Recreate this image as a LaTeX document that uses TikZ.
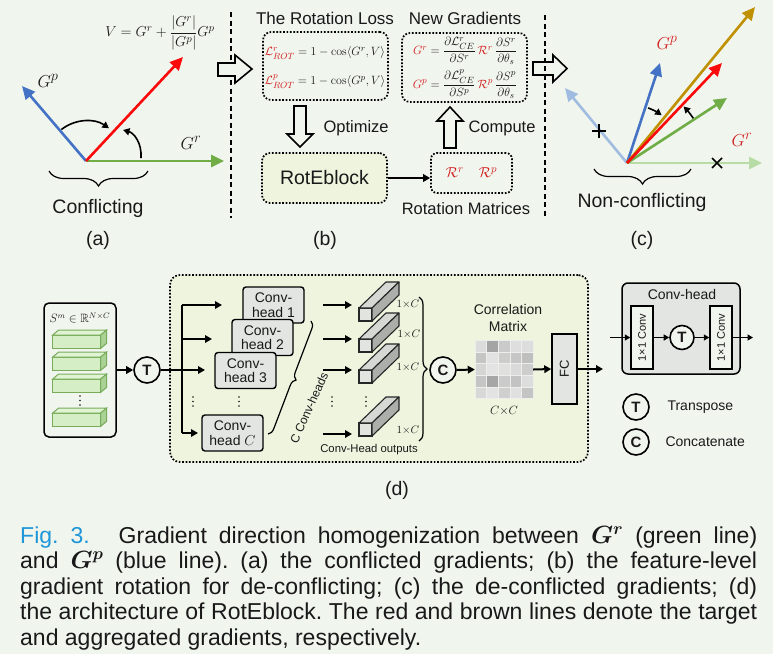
\documentclass[tikz,border=0pt]{standalone}
\usepackage{amsmath,amssymb,bm}
\usepackage[no-math]{fontspec}
\setmainfont{Liberation Sans}
\usetikzlibrary{arrows.meta,decorations.pathreplacing,calc}
\newcommand{\fsz}[1]{\fontsize{#1}{#1}\selectfont}
\definecolor{bgc}{RGB}{240,245,238}
\definecolor{panel}{RGB}{238,244,222}
\definecolor{hgray}{RGB}{226,229,225}
\definecolor{vblue}{RGB}{68,114,196}
\definecolor{vlblue}{RGB}{160,188,224}
\definecolor{vred}{RGB}{250,10,10}
\definecolor{vgreen}{RGB}{112,173,71}
\definecolor{vlgreen}{RGB}{184,220,166}
\definecolor{vbrown}{RGB}{191,144,0}
\definecolor{fred}{RGB}{210,30,30}
\definecolor{capblue}{RGB}{30,150,215}
\definecolor{txt}{RGB}{25,25,25}
\definecolor{barfill}{RGB}{213,238,198}
\definecolor{bartop}{RGB}{224,244,212}
\definecolor{barside}{RGB}{170,210,148}
\definecolor{baredge}{RGB}{120,172,90}
\definecolor{gfront}{RGB}{226,228,224}
\definecolor{gtop}{RGB}{214,216,212}
\definecolor{gside}{RGB}{172,174,170}
\begin{document}
\begin{tikzpicture}[x=1pt,y=-1pt,
  every node/.style={text=txt},
  vec/.style={line width=2.6pt,-{Triangle[length=13pt,width=12pt]}},
  carr/.style={line width=1.6pt,-{Triangle[length=6.5pt,width=7pt]}},
  arr/.style={line width=2pt,-{Triangle[length=7pt,width=7.5pt]}},
  larr/.style={line width=1.4pt,-{Triangle[length=5.5pt,width=6pt]}},
  dotbox/.style={draw,line width=1.7pt,dash pattern=on 1.7pt off 1.7pt,rounded corners=8pt,inner sep=0pt},
  hollow/.style={draw,fill=bgc,line width=1.6pt,line join=miter},
  dashline/.style={line width=2pt,dash pattern=on 5pt off 3.5pt},
  circ/.style={circle,draw,line width=1.6pt,fill=bgc,minimum size=26pt,inner sep=0pt,font=\fsz{15}\bfseries},
  hbox/.style={draw,line width=1.4pt,fill=hgray,rounded corners=3pt,minimum width=61pt,minimum height=36pt,inner sep=0pt,align=center,font=\fontsize{14}{14.5}\selectfont},
  brc/.style={line width=1.2pt,decorate,decoration={brace,amplitude=#1}},
  sub/.style={font=\fsz{19.5}}
]
\fill[bgc] (0,0) rectangle (773,654);
\useasboundingbox (0,0) rectangle (773,654);

% ---------------- (a)
\coordinate (oa) at (86,161);
\coordinate (pa) at (22,86);
\coordinate (va) at (183,57);
\coordinate (ra) at (224,161);
\draw[vec,vblue] (oa) -- (pa);
\draw[vec,vgreen] (oa) -- (ra);
\draw[vec,vred] (oa) -- (va);
\node[font=\fsz{19}] (lGpa) at (48,81) {$G^{p}$};
\node[font=\fsz{19}] (lGra) at (191,143) {$G^{r}$};
\node[font=\fsz{15}] (Vf) at (160,33) {$V=G^{r}+\dfrac{|G^{r}|}{|G^{p}|}G^{p}$};
\draw[carr] (61.4,129.5) arc[start angle=-128,end angle=-55,radius=40];
\draw[carr] (141,158) .. controls (142,143) and (134,133) .. (123,130);
\draw[brc=15pt] (148,171) -- (49,171);
\node[sub] (conf) at (98,208) {Conflicting};
\node[sub] (la) at (98,240) {(a)};

% dashed separators and hollow arrows
\draw[dashline] (231,12) -- (231,218);
\draw[hollow] (218,63) -- (235,63) -- (235,55) -- (252,69) -- (235,83) -- (235,76) -- (218,76) -- cycle;
\draw[hollow] (533,62) -- (553,62) -- (553,55) -- (567,68.5) -- (553,82) -- (553,75) -- (533,75) -- cycle;
\draw[dashline] (545,15) -- (545,218);

% ---------------- (b)
\node[font=\fsz{17}] (tl) at (325,18) {The Rotation Loss};
\node[font=\fsz{17}] (tg) at (465,18) {New Gradients};
\node[dotbox,minimum width=125pt,minimum height=68pt] (loss) at (325.5,66) {};
\node[font=\fsz{13}] (l1) at (325,53) {$\textcolor{fred}{\mathcal{L}^{r}_{ROT}}=1-\cos\langle G^{r},V\rangle$};
\node[font=\fsz{13}] (l2) at (325,82) {$\textcolor{fred}{\mathcal{L}^{p}_{ROT}}=1-\cos\langle G^{p},V\rangle$};
\node[dotbox,minimum width=125pt,minimum height=69pt] (grad) at (464.5,67.5) {};
\node[font=\fsz{13}] (g1) at (465,51) {$\textcolor{fred}{G^{r}}=\dfrac{\partial\mathcal{L}^{r}_{CE}}{\partial S^{r}}\,\textcolor{fred}{\mathcal{R}^{r}}\,\dfrac{\partial S^{r}}{\partial\theta_{s}}$};
\node[font=\fsz{13}] (g2) at (465,84) {$\textcolor{fred}{G^{p}}=\dfrac{\partial\mathcal{L}^{p}_{CE}}{\partial S^{p}}\,\textcolor{fred}{\mathcal{R}^{p}}\,\dfrac{\partial S^{p}}{\partial\theta_{s}}$};
\node[dotbox,fill=panel,minimum width=125pt,minimum height=50pt,font=\fsz{19.5}] (rot) at (324.5,178) {RotEblock};
\node[dotbox,rounded corners=6pt,minimum width=81pt,minimum height=40pt,font=\fsz{15}] (rmat) at (471.5,173) {$\textcolor{fred}{\mathcal{R}^{r}\quad\mathcal{R}^{p}}$};
\draw[arr] (rot.east) -- (rot.east -| rmat.west);
\draw[hollow] (294,106) -- (306,106) -- (306,134) -- (313,134) -- (300,147) -- (287,134) -- (294,134) -- cycle;
\draw[hollow] (444,148) -- (456,148) -- (456,121) -- (463,121) -- (450,107) -- (437,121) -- (444,121) -- cycle;
\node[font=\fsz{16.5},anchor=west] (opt) at (320,128) {Optimize};
\node[font=\fsz{16.5},anchor=west] (cmp) at (465,128) {Compute};
\node[font=\fsz{16.5}] (rm) at (466,209) {Rotation Matrices};
\node[sub] (lb) at (325,240) {(b)};

% ---------------- (c)
\coordinate (oc) at (627,163);
\coordinate (c1) at (565,88);
\coordinate (c2) at (660,63);
\coordinate (c3) at (755,7);
\coordinate (c4) at (722,63);
\coordinate (c5) at (727,98);
\coordinate (c6) at (762,163);
\draw[vec,vlblue] (oc) -- (c1);
\draw[vec,vlgreen] (oc) -- (c6);
\draw[vec,vblue] (oc) -- (c2);
\draw[vec,vgreen] (oc) -- (c5);
\draw[vec,vbrown] (oc) -- (c3);
\draw[vec,vred] (oc) -- (c4);
\draw[line width=1.6pt] (592,131) -- (606,131) (599,124) -- (599,138);
\draw[line width=1.6pt] (712,158) -- (722,168) (712,168) -- (722,158);
\node[font=\fsz{19}] (lGpc) at (667,43) {$\textcolor{fred}{G^{p}}$};
\node[font=\fsz{19}] (lGrc) at (742,140) {$\textcolor{fred}{G^{r}}$};
\draw[carr] (648.1,107.9) arc[start angle=-69,end angle=-54,radius=59];
\draw[carr] (693.3,118.3) arc[start angle=-34,end angle=-45,radius=80];
\draw[brc=15pt] (691,169) -- (594,169);
\node[sub] (nconf) at (642,202) {Non-conflicting};
\node[sub] (lc) at (642,240) {(c)};

% ---------------- (d)
\node[dotbox,fill=panel,rounded corners=10pt,minimum width=418pt,minimum height=187pt] (dbox) at (379,368.5) {};
\node[draw,line width=1.5pt,rounded corners=5pt,fill=bgc,minimum width=72pt,minimum height=134pt] (sbox) at (80,370) {};
\node[font=\fsz{12}] (slbl) at (80,318) {$S^{m}\in\mathbb{R}^{N\times C}$};
\foreach \y in {335,357,379,413}{
  \filldraw[draw=baredge,fill=barfill,line width=1pt] (52.7,\y) rectangle (100.7,\y+13.3);
  \filldraw[draw=baredge,fill=bartop,line width=1pt] (52.7,\y) -- (58.7,\y-5) -- (106.7,\y-5) -- (100.7,\y) -- cycle;
  \filldraw[draw=baredge,fill=barside,line width=1pt] (100.7,\y) -- (106.7,\y-5) -- (106.7,\y+8.3) -- (100.7,\y+13.3) -- cycle;
}
\foreach \k in {0,1,2} \fill[txt] (80,396+\k*4.5) circle (0.9);
\node[circ] (T1) at (147,370) {T};
\draw[arr] (sbox.east) -- (T1.west);
\coordinate (bt) at (182,305);
\coordinate (bb) at (182,433);
\coordinate (e1) at (222,305);
\coordinate (e2) at (212,339);
\coordinate (e3) at (205,370);
\coordinate (e4) at (198,433);
\draw[line width=2pt] (bt) -- (bb);
\draw[arr] (bt) -- (e1);
\draw[arr] (bt |- e2) -- (e2);
\draw[arr] (T1.east) -- (e3);
\draw[arr] (bb) -- (e4);
\foreach \k in {0,1,2} \fill[txt] (193,397+\k*4.5) circle (0.9);
\node[hbox] (h1) at (273.5,305) {Conv-\\head 1};
\node[hbox] (h2) at (262.5,337.5) {Conv-\\head 2};
\node[hbox] (h3) at (245.5,370.5) {Conv-\\head 3};
\node[hbox] (hC) at (232.5,433) {Conv-\\head $C$};
\foreach \k in {0,1,2} \fill[txt] (239,397+\k*4.5) circle (0.9);
\draw[brc=7pt] (311,321) -- (268,434);
\node[rotate=66,font=\fsz{12}] (chl) at (309,408) {C Conv-heads};
\foreach \yy in {305,339,370,434}{
  \coordinate (s\yy) at (323,\yy);
  \coordinate (t\yy) at (352,\yy);
  \draw[arr] (s\yy) -- (t\yy);
}
\foreach \k in {0,1,2} \fill[txt] (332,397+\k*4.5) circle (0.9);
\foreach \y in {308,339,370,423}{
  \filldraw[draw=black!85,fill=gfront,line width=1.1pt] (359,\y) rectangle (372,\y+13);
  \filldraw[draw=black!85,fill=gtop,line width=1.1pt,line join=round] (359,\y) -- (386,\y-26) -- (399,\y-26) -- (372,\y) -- cycle;
  \filldraw[draw=black!85,fill=gside,line width=1.1pt,line join=round] (372,\y) -- (399,\y-26) -- (399,\y-13) -- (372,\y+13) -- cycle;
}
\foreach \k in {0,1,2} \fill[txt] (366,397+\k*4.5) circle (0.9);
\node[font=\fsz{11}] (o1) at (408,304) {$1{\times}C$};
\node[font=\fsz{11}] (o2) at (409,334) {$1{\times}C$};
\node[font=\fsz{11}] (o3) at (408,367) {$1{\times}C$};
\node[font=\fsz{11}] (o4) at (408,430) {$1{\times}C$};
\draw[brc=8pt] (419,297) -- (419,441);
\node[font=\fsz{11.3}] (cho) at (369,450) {Conv-Head outputs};
\node[circ] (C1) at (443,370) {C};
\node[minimum size=58pt,inner sep=0pt] (cm) at (504,369.5) {};
\foreach \row [count=\i from 0] in {{220,164,202,222,221},{197,226,205,198,191},{213,227,224,218,205},{197,166,203,195,221},{216,227,207,224,196}}{
  \foreach \v [count=\j from 0] in \row {
    \definecolor{cellc}{RGB}{\v,\v,\v}
    \filldraw[fill=cellc,draw={rgb,255:red,236;green,238;blue,234},line width=0.6pt] (475+\j*11.6,340.5+\i*11.6) rectangle ++(11.6,11.6);
  }
}
\node[font=\fontsize{14}{17}\selectfont,align=center] (cml) at (508,317.5) {Correlation\\Matrix};
\node[font=\fsz{12}] (ccl) at (504,411) {$C{\times}C$};
\draw[arr] (C1.east) -- (cm.west);
\node[draw,line width=1.5pt,fill=hgray,minimum width=25pt,minimum height=70pt,inner sep=0pt] (fc) at (564.5,369) {};
\node[rotate=90,font=\fsz{13}] (fct) at (fc) {FC};
\draw[arr] (cm.east) -- (fc.west);
\coordinate (fo) at (603,369);
\draw[arr] (fc.east) -- (fo);
\node[sub] (ld) at (397,490) {(d)};

% Conv-head legend
\node[draw,line width=1.5pt,rounded corners=6pt,fill=hgray,minimum width=118pt,minimum height=91pt,inner sep=0pt] (chbox) at (681,328.5) {};
\node[font=\fsz{14}] (cht) at (682,294) {Conv-head};
\node[draw,line width=1.5pt,fill=bgc,minimum width=22pt,minimum height=63pt,inner sep=0pt] (cv1) at (642,337.5) {};
\node[rotate=90,font=\fsz{11}] at (cv1) {1×1 Conv};
\node[draw,line width=1.5pt,fill=bgc,minimum width=22pt,minimum height=63pt,inner sep=0pt] (cv2) at (721,337.5) {};
\node[rotate=90,font=\fsz{11}] at (cv2) {1×1 Conv};
\node[circ,minimum size=24pt] (T2) at (682,337.5) {T};
\coordinate (ci) at (610,337.5);
\coordinate (co) at (753,337.5);
\draw[larr] (ci) -- (cv1.west);
\draw[larr] (cv1.east) -- (T2.west);
\draw[larr] (T2.east) -- (cv2.west);
\draw[larr] (cv2.east) -- (co);
\node[circ] (T3) at (636,407) {T};
\node[font=\fsz{14},anchor=west] (trl) at (664,407) {Transpose};
\node[circ] (C3) at (636,442) {C};
\node[font=\fsz{14},anchor=west] (cnl) at (662,442) {Concatenate};

% ---------------- caption
\node[anchor=north west,inner sep=0pt,text width=737pt,align=justify,font=\fontsize{23}{25.5}\selectfont,text=txt] (cap) at (20,525)
{\frenchspacing\exhyphenpenalty=10000\hyphenpenalty=10000\strut{\color{capblue}Fig. 3.}\hspace{17pt} Gradient direction homogenization between $\bm{G^{r}}$ (green line)\linebreak and $\bm{G^{p}}$ (blue line). (a) the conflicted gradients; (b) the feature-level\linebreak gradient rotation for de-conflicting; (c) the de-conflicted gradients; (d)\linebreak the architecture of RotEblock. The red and brown lines denote the target\linebreak and aggregated gradients, respectively.};
\end{tikzpicture}
\end{document}
